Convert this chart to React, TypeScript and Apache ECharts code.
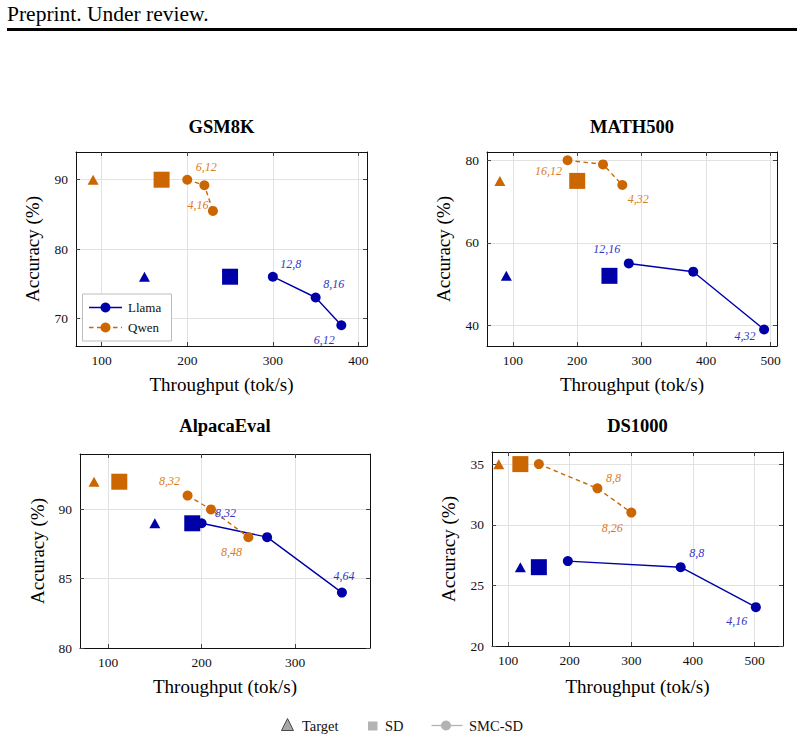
import React, { useEffect, useRef } from 'react';
import * as echarts from 'echarts';

type Pt = [number, number];

// ---- GSM8K ----
const gsmXTicks = [100, 200, 300, 400];
const gsmYTicks = [70, 80, 90];
const gsmLlamaTarget: Pt = [150, 76];
const gsmLlamaSD: Pt = [250, 76];
const gsmLlamaSMC: Pt[] = [[300, 76], [350, 73], [380, 69]];
const gsmLlamaLabels = ['12,8', '8,16', '6,12'];
const gsmQwenTarget: Pt = [90, 90];
const gsmQwenSD: Pt = [170, 90];
const gsmQwenSMC: Pt[] = [[200, 90], [220, 89.2], [230, 85.5]];
const gsmQwenLabels = ['6,12', '', '4,16'];

// ---- MATH500 ----
const mathXTicks = [100, 200, 300, 400, 500];
const mathYTicks = [40, 60, 80];
const mathLlamaTarget: Pt = [90, 52];
const mathLlamaSD: Pt = [250, 52];
const mathLlamaSMC: Pt[] = [[280, 55], [380, 53], [490, 39]];
const mathLlamaLabels = ['12,16', '', '4,32'];
const mathQwenTarget: Pt = [80, 75];
const mathQwenSD: Pt = [200, 75];
const mathQwenSMC: Pt[] = [[185, 80], [240, 79], [270, 74]];
const mathQwenLabels = ['16,12', '', '4,32'];

// ---- AlpacaEval ----
const alpacaXTicks = [100, 200, 300];
const alpacaYTicks = [80, 85, 90];
const alpacaLlamaTarget: Pt = [150, 89];
const alpacaLlamaSD: Pt = [190, 89];
const alpacaLlamaSMC: Pt[] = [[200, 89], [270, 88], [350, 84]];
const alpacaLlamaLabels = ['8,32', '', '4,64'];
const alpacaQwenTarget: Pt = [85, 92];
const alpacaQwenSD: Pt = [112, 92];
const alpacaQwenSMC: Pt[] = [[185, 91], [210, 90], [250, 88]];
const alpacaQwenLabels = ['8,32', '', '8,48'];

// ---- DS1000 ----
const dsXTicks = [100, 200, 300, 400, 500];
const dsYTicks = [20, 25, 30, 35];
const dsLlamaTarget: Pt = [120, 26.5];
const dsLlamaSD: Pt = [150, 26.5];
const dsLlamaSMC: Pt[] = [[197, 27], [380, 26.5], [502, 23.2]];
const dsLlamaLabels = ['', '8,8', '4,16'];
const dsQwenTarget: Pt = [85, 35];
const dsQwenSD: Pt = [120, 35];
const dsQwenSMC: Pt[] = [[150, 35], [245, 33], [300, 31]];
const dsQwenLabels = ['', '8,8', '8,26'];

const BLUE = '#0000a8';
const ORANGE = '#cc6600';
const BLUE_TEXT = '#3434c4';
const ORANGE_TEXT = '#d77d28';
const FONT = "'Liberation Serif', 'DejaVu Serif', serif";

type Off = [number, number] | null;

interface Panel {
  title: string;
  grid: { left: number; top: number; width: number; height: number };
  xRange: [number, number];
  yRange: [number, number];
  xTicks: number[];
  yTicks: number[];
  llama: { target: Pt; sd: Pt; smc: Pt[]; labels: string[]; offsets: Off[] };
  qwen: { target: Pt; sd: Pt; smc: Pt[]; labels: string[]; offsets: Off[] };
  xTitle: [number, number];
  yTitle: [number, number];
  titlePos: [number, number];
}

const panels: Panel[] = [
  {
    title: 'GSM8K',
    grid: { left: 76, top: 152, width: 291, height: 194 },
    xRange: [70, 410],
    yRange: [66, 94],
    xTicks: gsmXTicks,
    yTicks: gsmYTicks,
    llama: { target: gsmLlamaTarget, sd: gsmLlamaSD, smc: gsmLlamaSMC, labels: gsmLlamaLabels, offsets: [[18, -13], [18, -14], [-17, 15]] },
    qwen: { target: gsmQwenTarget, sd: gsmQwenSD, smc: gsmQwenSMC, labels: gsmQwenLabels, offsets: [[19, -13], null, [-15, -6]] },
    xTitle: [221.5, 384],
    yTitle: [32, 249],
    titlePos: [221.5, 127],
  },
  {
    title: 'MATH500',
    grid: { left: 487, top: 152, width: 290, height: 194 },
    xRange: [60, 510],
    yRange: [35, 82],
    xTicks: mathXTicks,
    yTicks: mathYTicks,
    llama: { target: mathLlamaTarget, sd: mathLlamaSD, smc: mathLlamaSMC, labels: mathLlamaLabels, offsets: [[-22, -14], null, [-19, 7]] },
    qwen: { target: mathQwenTarget, sd: mathQwenSD, smc: mathQwenSMC, labels: mathQwenLabels, offsets: [[-19, 11], null, [16, 14]] },
    xTitle: [632, 384],
    yTitle: [443.5, 249],
    titlePos: [632, 127],
  },
  {
    title: 'AlpacaEval',
    grid: { left: 80, top: 454, width: 290, height: 194 },
    xRange: [70, 380],
    yRange: [80, 94],
    xTicks: alpacaXTicks,
    yTicks: alpacaYTicks,
    llama: { target: alpacaLlamaTarget, sd: alpacaLlamaSD, smc: alpacaLlamaSMC, labels: alpacaLlamaLabels, offsets: [[24, -10], null, [2, -17]] },
    qwen: { target: alpacaQwenTarget, sd: alpacaQwenSD, smc: alpacaQwenSMC, labels: alpacaQwenLabels, offsets: [[-18, -15], null, [-17, 15]] },
    xTitle: [225, 686],
    yTitle: [37, 551],
    titlePos: [225, 426],
  },
  {
    title: 'DS1000',
    grid: { left: 492, top: 452, width: 291, height: 194 },
    xRange: [74, 546],
    yRange: [20, 36],
    xTicks: dsXTicks,
    yTicks: dsYTicks,
    llama: { target: dsLlamaTarget, sd: dsLlamaSD, smc: dsLlamaSMC, labels: dsLlamaLabels, offsets: [null, [16, -14], [-19, 14]] },
    qwen: { target: dsQwenTarget, sd: dsQwenSD, smc: dsQwenSMC, labels: dsQwenLabels, offsets: [null, [16, -10], [-19, 15]] },
    xTitle: [637.5, 686],
    yTitle: [448, 549],
    titlePos: [637.5, 426],
  },
];

function axisPair(dim: 'x' | 'y', gi: number, range: [number, number], ticks: number[]) {
  const common = {
    gridIndex: gi,
    type: 'value',
    min: range[0],
    max: range[1],
    axisLine: { show: true, onZero: false, lineStyle: { color: '#111', width: 1 } },
    axisTick: { show: true, inside: true, length: 4, customValues: ticks, lineStyle: { color: '#444', width: 1 } },
  };
  const main = {
    ...common,
    position: dim === 'x' ? 'bottom' : 'left',
    axisLabel: {
      customValues: ticks,
      margin: dim === 'x' ? 7 : 8,
      color: '#111',
      fontFamily: FONT,
      fontSize: 13.5,
    },
    splitLine: { show: true, lineStyle: { color: '#e2e2e2', width: 1 } },
  };
  const mirror = {
    ...common,
    position: dim === 'x' ? 'top' : 'right',
    axisLabel: { show: false },
    splitLine: { show: false },
  };
  return [main, mirror];
}

function smcData(pts: Pt[], labels: string[], offsets: Off[], color: string) {
  return pts.map((pt, i) => ({
    value: pt,
    label: {
      show: !!labels[i],
      formatter: labels[i] || '',
      position: 'inside',
      offset: offsets[i] || [0, 0],
      color,
      fontFamily: FONT,
      fontStyle: 'italic',
      fontSize: 12,
    },
  }));
}

function panelSeries(p: Panel, gi: number) {
  const axes = { xAxisIndex: gi * 2, yAxisIndex: gi * 2 };
  const out: any[] = [];
  const groups: [typeof p.llama, string, string, any][] = [
    [p.llama, BLUE, BLUE_TEXT, 'solid'],
    [p.qwen, ORANGE, ORANGE_TEXT, [4.5, 3.5]],
  ];
  groups.forEach(([g, color, textColor, dash]) => {
    out.push({
      type: 'scatter', ...axes, symbol: 'triangle', symbolSize: [11, 10],
      itemStyle: { color, opacity: 1 }, data: [g.target], silent: true,
    });
    out.push({
      type: 'scatter', ...axes, symbol: 'rect', symbolSize: 16,
      itemStyle: { color, opacity: 1 }, data: [g.sd], silent: true,
    });
    out.push({
      type: 'line', ...axes, symbol: 'circle', symbolSize: 10, showSymbol: true,
      lineStyle: { color, width: 1.4, type: dash },
      itemStyle: { color, opacity: 1 },
      data: smcData(g.smc, g.labels, g.offsets, textColor),
      silent: true,
    });
  });
  return out;
}

function textEl(text: string, x: number, y: number, font: string, extra: any = {}) {
  return {
    type: 'text', x, y, z: 50,
    style: { text, font, fill: '#000', align: 'center', verticalAlign: 'middle' },
    ...(extra.rotation ? { rotation: extra.rotation } : {}),
  };
}

function buildGraphics() {
  const g: any[] = [];
  // page header
  g.push({ type: 'text', x: 7, y: 14, z: 50, style: { text: 'Preprint. Under review.', font: `21.5px ${FONT}`, fill: '#000', align: 'left', verticalAlign: 'middle' } });
  g.push({ type: 'rect', z: 50, shape: { x: 7, y: 28, width: 790, height: 3 }, style: { fill: '#000' } });

  panels.forEach((p) => {
    g.push(textEl(p.title, p.titlePos[0], p.titlePos[1], `bold 18.5px ${FONT}`));
    g.push(textEl('Throughput (tok/s)', p.xTitle[0], p.xTitle[1], `19px ${FONT}`));
    g.push(textEl('Accuracy (%)', p.yTitle[0], p.yTitle[1], `19px ${FONT}`, { rotation: Math.PI / 2 }));
  });

  // in-plot legend (GSM8K)
  g.push({ type: 'rect', z: 60, shape: { x: 82.5, y: 294, width: 89, height: 47 }, style: { fill: '#fff', stroke: '#bdbdbd', lineWidth: 1 } });
  g.push({ type: 'line', z: 61, shape: { x1: 89, y1: 307.5, x2: 122, y2: 307.5 }, style: { stroke: BLUE, lineWidth: 1.4 } });
  g.push({ type: 'circle', z: 62, shape: { cx: 105.5, cy: 307.5, r: 5 }, style: { fill: BLUE } });
  g.push({ type: 'text', z: 62, x: 128, y: 307.5, style: { text: 'Llama', font: `13px ${FONT}`, fill: '#111', align: 'left', verticalAlign: 'middle' } });
  g.push({ type: 'line', z: 61, shape: { x1: 89, y1: 327.5, x2: 122, y2: 327.5 }, style: { stroke: ORANGE, lineWidth: 1.4, lineDash: [4.5, 3.5] } });
  g.push({ type: 'circle', z: 62, shape: { cx: 105.5, cy: 327.5, r: 5 }, style: { fill: ORANGE } });
  g.push({ type: 'text', z: 62, x: 128, y: 327.5, style: { text: 'Qwen', font: `13px ${FONT}`, fill: '#111', align: 'left', verticalAlign: 'middle' } });

  // shared legend at the bottom
  const ly = 725.5;
  g.push({ type: 'polygon', z: 50, shape: { points: [[281.5, 730.5], [293.5, 730.5], [287.5, 718.5]] }, style: { fill: '#a8a8a8', stroke: '#3a3a3a', lineWidth: 0.9 } });
  g.push({ type: 'text', z: 50, x: 302, y: ly, style: { text: 'Target', font: `14.5px ${FONT}`, fill: '#111', align: 'left', verticalAlign: 'middle' } });
  g.push({ type: 'rect', z: 50, shape: { x: 368, y: 721.5, width: 9.5, height: 9 }, style: { fill: '#b3b3b3' } });
  g.push({ type: 'text', z: 50, x: 385, y: ly, style: { text: 'SD', font: `14.5px ${FONT}`, fill: '#111', align: 'left', verticalAlign: 'middle' } });
  g.push({ type: 'line', z: 50, shape: { x1: 431.5, y1: ly, x2: 462.5, y2: ly }, style: { stroke: '#b3b3b3', lineWidth: 1.3 } });
  g.push({ type: 'circle', z: 51, shape: { cx: 446, cy: ly, r: 5 }, style: { fill: '#b3b3b3' } });
  g.push({ type: 'text', z: 50, x: 469, y: ly, style: { text: 'SMC-SD', font: `14.5px ${FONT}`, fill: '#111', align: 'left', verticalAlign: 'middle' } });
  return g;
}

export default function App() {
  const ref = useRef<HTMLDivElement>(null);
  useEffect(() => {
    if (!ref.current) return;
    const chart = echarts.init(ref.current, undefined, { renderer: 'svg' });
    const xAxis: any[] = [];
    const yAxis: any[] = [];
    const series: any[] = [];
    panels.forEach((p, gi) => {
      xAxis.push(...axisPair('x', gi, p.xRange, p.xTicks));
      yAxis.push(...axisPair('y', gi, p.yRange, p.yTicks));
      series.push(...panelSeries(p, gi));
    });
    chart.setOption({
      animation: false,
      backgroundColor: '#fff',
      textStyle: { fontFamily: FONT },
      grid: panels.map((p) => ({ ...p.grid, containLabel: false })),
      xAxis,
      yAxis,
      series,
      graphic: buildGraphics(),
    });
    return () => chart.dispose();
  }, []);
  return (
    <div
      ref={ref}
      style={{ position: 'fixed', left: 0, top: 0, width: 804, height: 741, background: '#fff' }}
    />
  );
}
